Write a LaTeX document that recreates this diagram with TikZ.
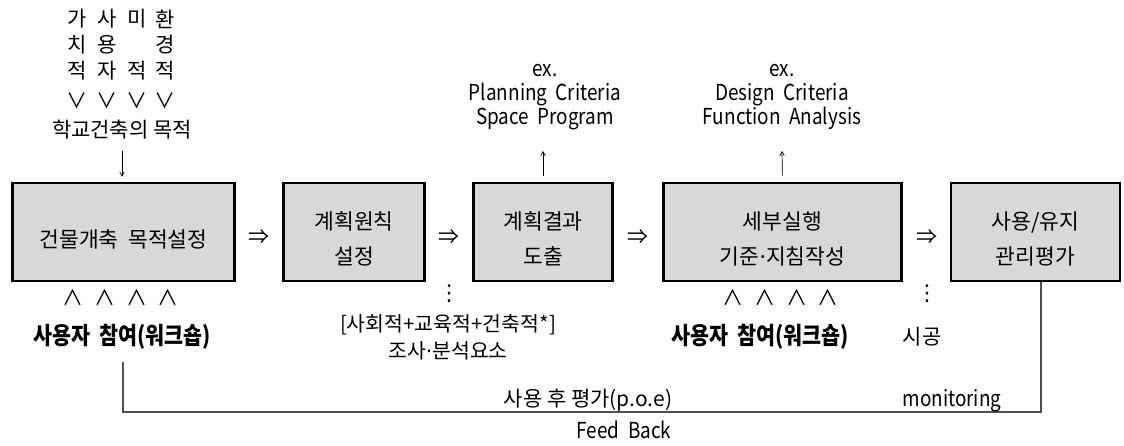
\documentclass[tikz,border=0pt]{standalone}
\usepackage{fontspec}
\setmainfont{Noto Sans CJK KR}
\newfontfamily\symf{DejaVu Sans}
\newfontfamily\latf{Noto Sans CJK KR}[FakeStretch=0.86]
\newfontfamily\boldk{Noto Sans CJK KR}[FakeStretch=0.86]
\newcommand{\mdot}{{\symf ·}}
\usetikzlibrary{arrows.meta}
\definecolor{boxgray}{RGB}{216,216,216}
\definecolor{linegray}{RGB}{80,80,80}
\tikzset{
  stagebox/.style={draw=black, line width=2.6pt, fill=boxgray, minimum height=98pt, inner sep=0pt},
  boxtxt/.style={inner sep=0pt, align=center, font=\fontsize{21.5}{35}\selectfont},
  txt/.style={inner sep=0pt, font=\fontsize{21}{25}\selectfont, align=center},
  extxt/.style={inner sep=0pt, font=\latf\fontsize{22}{24}\selectfont, align=center},
  boldtxt/.style={inner sep=0pt, font=\boldk\bfseries\fontsize{24}{28}\selectfont},
  dotstxt/.style={inner sep=0pt, font=\symf\fontsize{22}{22}\selectfont},
  thinarrow/.style={-{Straight Barb[length=4pt,width=4.5pt]}, line width=0.7pt},
  fbline/.style={draw=linegray, line width=1.2pt}
}
\begin{document}
\begin{tikzpicture}[x=1pt,y=-1pt]
\useasboundingbox (0,0) rectangle (1124,446);
% boxes
\node[stagebox, minimum width=222pt] (b1) at (123.5,232) {};
\node[stagebox, minimum width=141pt] (b2) at (354,232) {};
\node[stagebox, minimum width=139pt] (b3) at (543,232) {};
\node[stagebox, minimum width=238pt] (b4) at (782.5,232) {};
\node[stagebox, minimum width=169pt] (b5) at (1035.5,232) {};
\node[boxtxt] (t1) at ([yshift=-7pt]b1.center) {건물개축\ \ 목적설정};
\node[boxtxt] (t2) at ([yshift=-7pt]b2.center) {계획원칙\\설정};
\node[boxtxt] (t3) at ([yshift=-7pt]b3.center) {계획결과\\도출};
\node[boxtxt] (t4) at ([yshift=-7pt]b4.center) {세부실행\\기준\mdot 지침작성};
\node[boxtxt] (t5) at ([yshift=-7pt]b5.center) {사용/유지\\관리평가};
% implication arrows
\node[txt] (i1) at (259,237) {⇒};
\node[txt] (i2) at (449,237) {⇒};
\node[txt] (i3) at (638,237) {⇒};
\node[txt] (i4) at (927,237) {⇒};
% top columns
\node[txt] (c11) at (77,19) {가};
\node[txt] (c12) at (77,45) {치};
\node[txt] (c13) at (77,71) {적};
\node[txt] (c21) at (107,19) {사};
\node[txt] (c22) at (107,45) {용};
\node[txt] (c23) at (107,71) {자};
\node[txt] (c31) at (137,19) {미};
\node[txt] (c33) at (137,71) {적};
\node[txt] (c41) at (165,19) {환};
\node[txt] (c42) at (165,45) {경};
\node[txt] (c43) at (165,71) {적};
\node[txt] (v1) at (77,101) {∨};
\node[txt] (v2) at (107,101) {∨};
\node[txt] (v3) at (137,101) {∨};
\node[txt] (v4) at (165,101) {∨};
\node[txt] (goal) at (122,130) {학교건축의 목적};
\coordinate (goaltail) at (122,151);
\draw[thinarrow, shorten >=5pt] (goaltail) -- (goaltail |- b1.north);
% examples
\node[extxt] (ex1) at (545,97) {ex.\\Planning\ \ Criteria\\Space\ \ Program};
\node[extxt] (ex2) at (782,97) {ex.\\Design\ \ Criteria\\Function\ \ Analysis};
\coordinate (ex1tip) at (543,151);
\coordinate (ex2tip) at (782,151);
\draw[thinarrow, shorten <=6pt] (b3.north) -- (ex1tip);
\draw[thinarrow, shorten <=6pt] (b4.north) -- (ex2tip);
% wedges under boxes
\node[txt] (w1) at (73,298) {∧};
\node[txt] (w2) at (105,298) {∧};
\node[txt] (w3) at (137,298) {∧};
\node[txt] (w4) at (168,298) {∧};
\node[txt] (w5) at (733,298) {∧};
\node[txt] (w6) at (765,298) {∧};
\node[txt] (w7) at (797,298) {∧};
\node[txt] (w8) at (828,298) {∧};
\node[boldtxt] (u1) at (122,337) {사용자\ \ 참여(워크숍)};
\node[boldtxt] (u2) at (760,337) {사용자\ \ 참여(워크숍)};
% dots
\node[dotstxt] (d1) at (449,294) {⋮};
\node[dotstxt] (d2) at (927,294) {⋮};
\node[txt, font=\fontsize{20.5}{27}\selectfont] (survey) at (448,337) {[사회적+교육적+건축적*]\\조사\mdot 분석요소};
\node[txt] (build) at (922,337) {시공};
% feedback
\coordinate (fbstart) at (123,362);
\coordinate (fbright) at (1041,412);
\draw[fbline] (fbstart) |- (fbright) -- (b5.south -| fbright);
\node[txt] (poe) at (588,400) {사용 후 평가(p.o.e)};
\node[extxt] (mon) at (952,401) {monitoring};
\node[extxt] (fb) at (624,430) {Feed\ \ Back};
\end{tikzpicture}
\end{document}
